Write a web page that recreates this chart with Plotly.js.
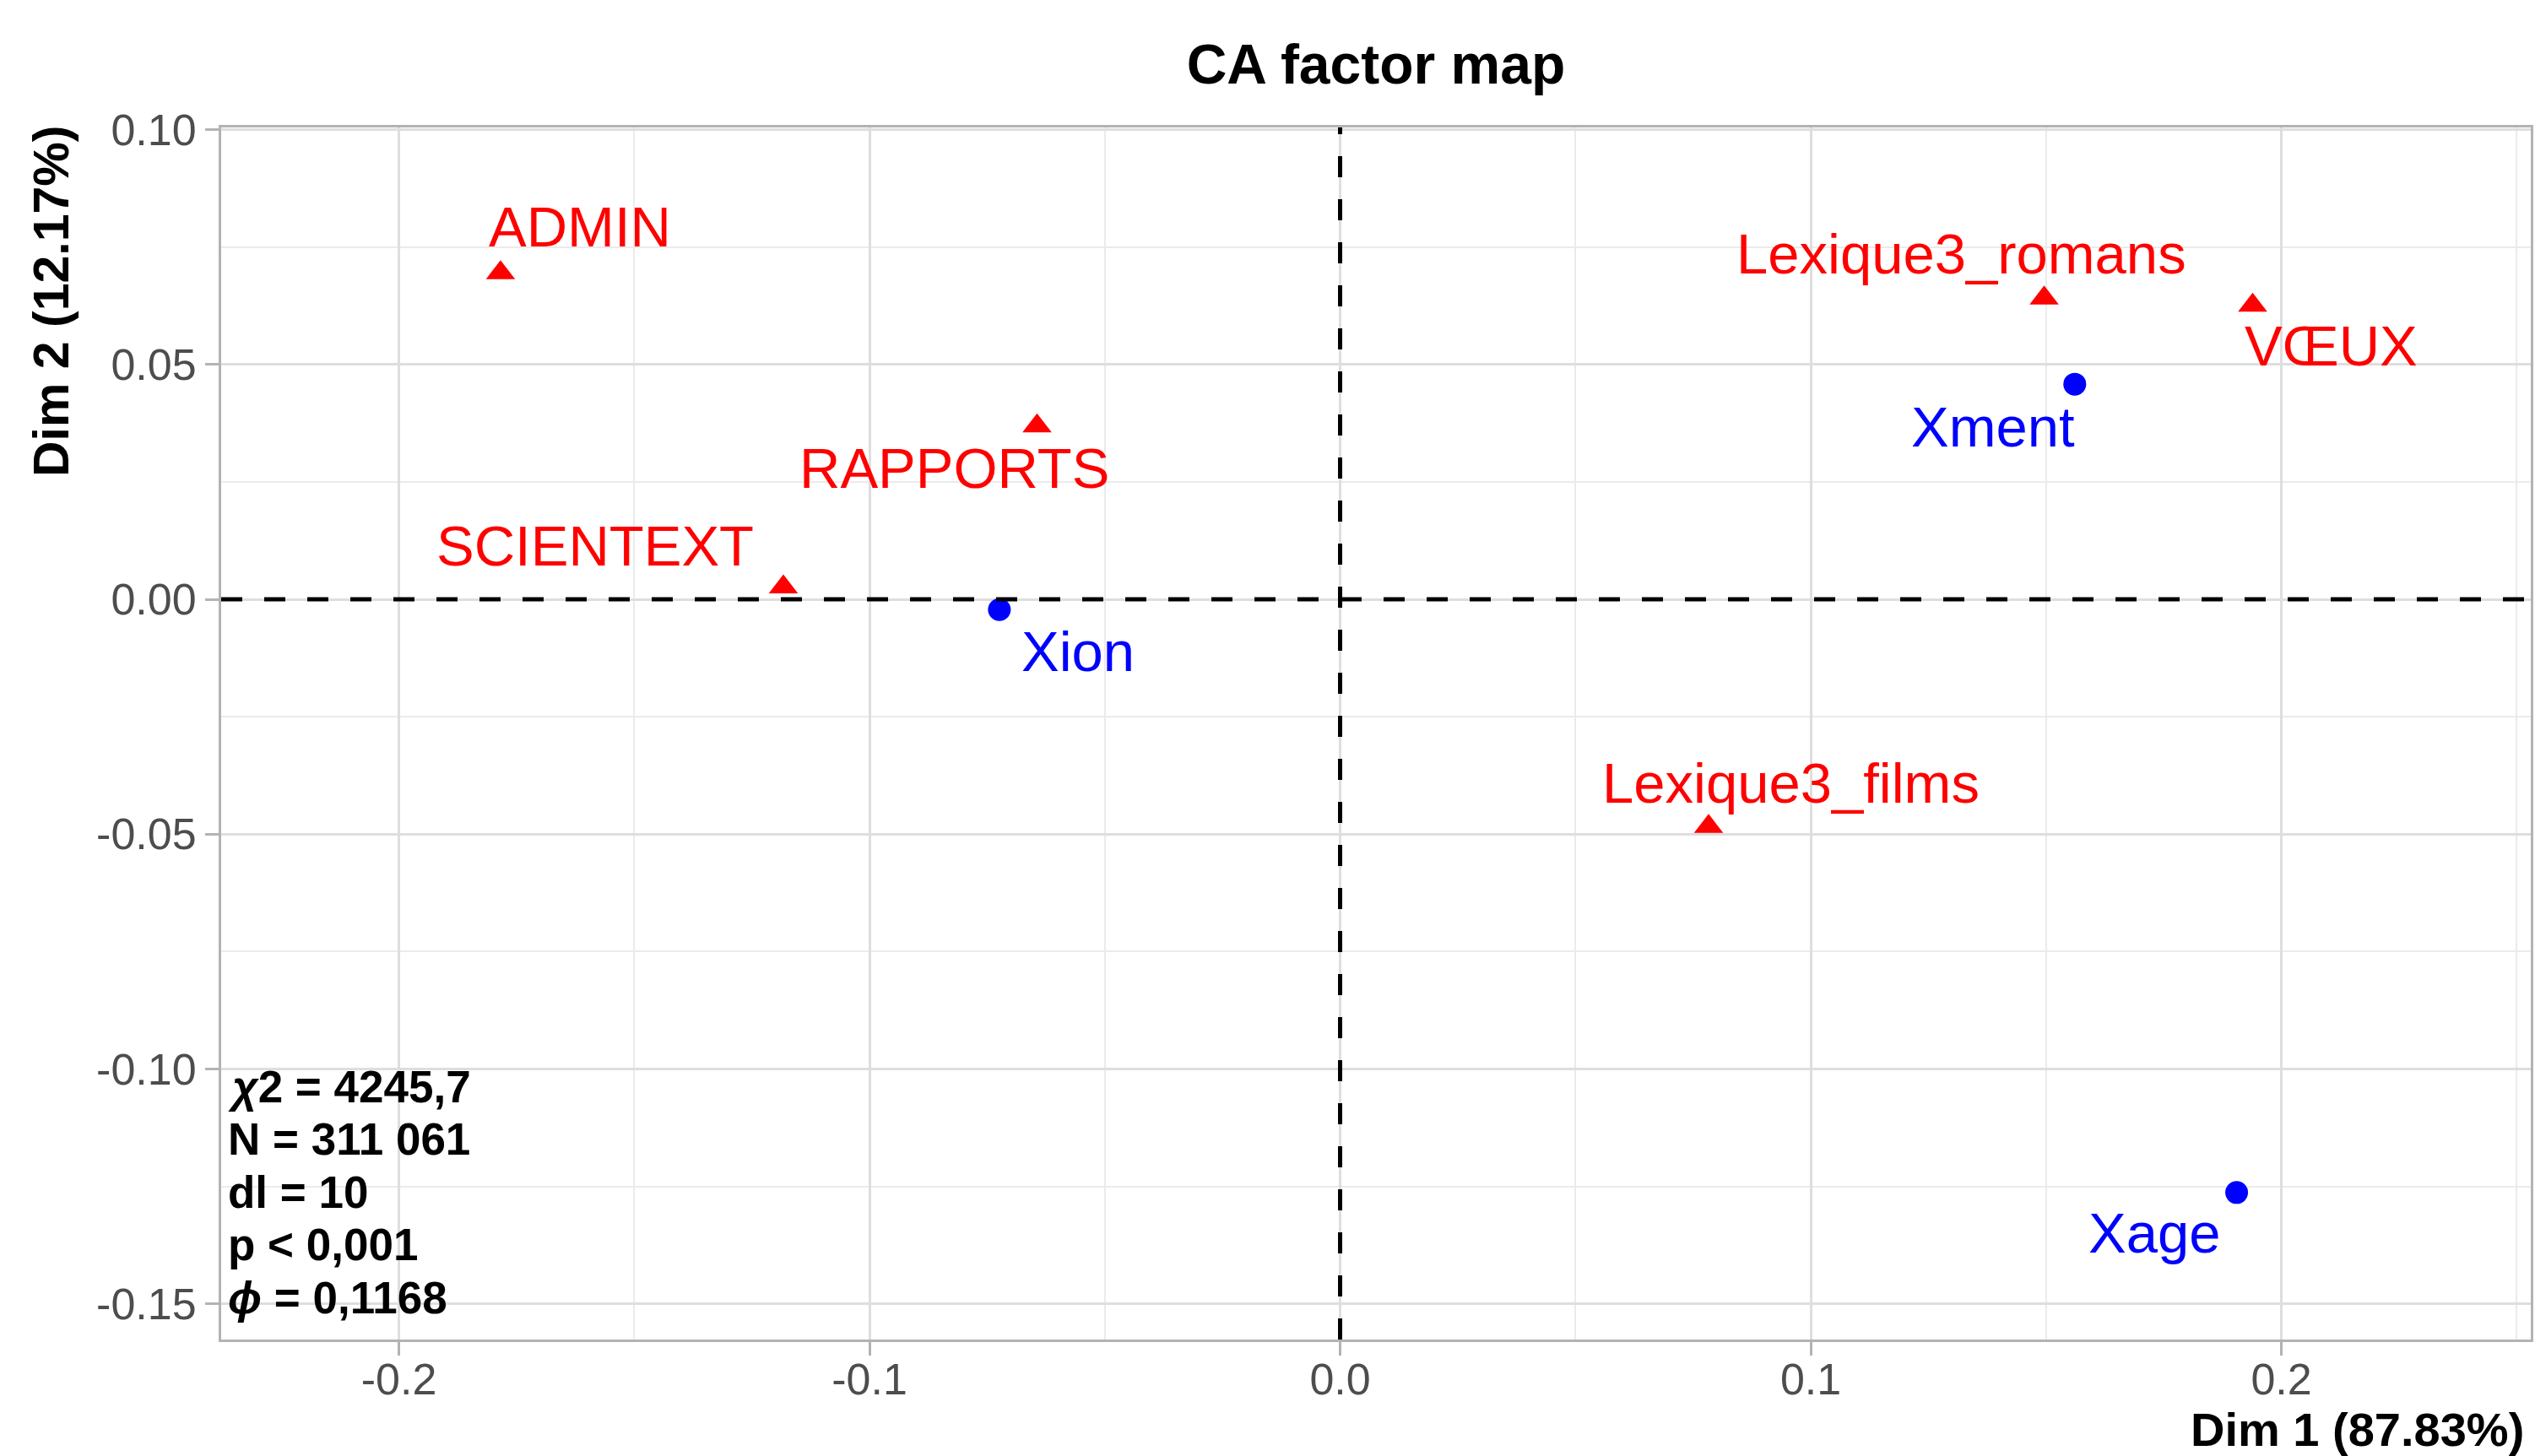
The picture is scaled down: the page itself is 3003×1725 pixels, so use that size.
<!DOCTYPE html>
<html>
<head>
<meta charset="utf-8">
<script src="https://cdn.plot.ly/plotly-3.0.1.min.js"></script>
<style>html,body{margin:0;padding:0;background:#fff;}#chart{width:3003px;height:1725px;}</style>
</head>
<body>
<div id="chart"></div>
<script>
// ---- data ----
var rowLabels = ['ADMIN', 'RAPPORTS', 'SCIENTEXT', 'Lexique3_films', 'Lexique3_romans', 'VŒUX'];
var rowDim1 = [-0.1784, -0.0644, -0.1183, 0.0783, 0.1496, 0.1939];
var rowDim2 = [0.0695, 0.0369, 0.0026, -0.0484, 0.0641, 0.0626];

var colLabels = ['Xion', 'Xment', 'Xage'];
var colDim1 = [-0.0724, 0.1561, 0.1905];
var colDim2 = [-0.0022, 0.0458, -0.1263];

var xTickVals = [-0.2, -0.1, 0.0, 0.1, 0.2];
var xTickText = ['-0.2', '-0.1', '0.0', '0.1', '0.2'];
var xMinorVals = [-0.15, -0.05, 0.05, 0.15, 0.25];
var yTickVals = [0.10, 0.05, 0.00, -0.05, -0.10, -0.15];
var yTickText = ['0.10', '0.05', '0.00', '-0.05', '-0.10', '-0.15'];
var yMinorVals = [0.075, 0.025, -0.025, -0.075, -0.125];

var statsLines = ['<i>χ</i>2 = 4245,7', 'N = 311 061', 'dl = 10', 'p < 0,001', '<i>ϕ</i> = 0,1168'];

// ---- label placement (pixel offsets, style only) ----
var rowLabelShift = [[94, -55], [-98, 50], [-223, -49], [97, -52], [-98, -53], [93, 48]];
var colLabelShift = [[93, 49], [-97, 50], [-98, 48]];

var FONT = 'Liberation Sans, Arial, Helvetica, sans-serif';
var RED = '#FF0000', BLUE = '#0000FF';

var traces = [
  {
    type: 'scatter', mode: 'markers', x: rowDim1, y: rowDim2, text: rowLabels,
    marker: {symbol: 'triangle-up', size: 30, color: RED, line: {width: 0}},
    showlegend: false, hoverinfo: 'text'
  },
  {
    type: 'scatter', mode: 'markers', x: colDim1, y: colDim2, text: colLabels,
    marker: {symbol: 'circle', size: 27, color: BLUE, line: {width: 0}},
    showlegend: false, hoverinfo: 'text'
  }
];

var annotations = [];
rowLabels.forEach(function (lab, i) {
  annotations.push({
    xref: 'x', yref: 'y', x: rowDim1[i], y: rowDim2[i], text: lab, showarrow: false,
    xanchor: 'center', yanchor: 'middle',
    xshift: rowLabelShift[i][0], yshift: -rowLabelShift[i][1],
    font: {family: FONT, size: 67, color: RED}
  });
});
colLabels.forEach(function (lab, i) {
  annotations.push({
    xref: 'x', yref: 'y', x: colDim1[i], y: colDim2[i], text: lab, showarrow: false,
    xanchor: 'center', yanchor: 'middle',
    xshift: colLabelShift[i][0], yshift: -colLabelShift[i][1],
    font: {family: FONT, size: 67, color: BLUE}
  });
});
statsLines.forEach(function (line, i) {
  annotations.push({
    xref: 'paper', yref: 'paper', x: 0, y: 0, text: '<b>' + line + '</b>', showarrow: false,
    xanchor: 'left', yanchor: 'middle',
    xshift: 6, yshift: 50 + (statsLines.length - 1 - i) * 62.5,
    font: {family: FONT, size: 53, color: '#000000'}
  });
});
// axis titles (ggplot-style, aligned to ends)
annotations.push({
  xref: 'paper', yref: 'paper', x: 1, y: 0, text: '<b>Dim 1 (87.83%)</b>', showarrow: false,
  xanchor: 'right', yanchor: 'middle', xshift: -6, yshift: -106,
  font: {family: FONT, size: 56, color: '#000000'}
});
annotations.push({
  xref: 'paper', yref: 'paper', x: 0, y: 1, text: '<b>Dim 2 (12.17%)</b>', showarrow: false,
  textangle: -90, xanchor: 'center', yanchor: 'top', xshift: -201, yshift: 4,
  font: {family: FONT, size: 59, color: '#000000'}
});

var layout = {
  width: 3003, height: 1725,
  margin: {l: 262, r: 5, t: 151, b: 138, pad: 0},
  paper_bgcolor: '#FFFFFF', plot_bgcolor: '#FFFFFF',
  font: {family: FONT},
  title: {
    text: '<b>CA factor map</b>', font: {family: FONT, size: 66, color: '#000000'},
    xref: 'paper', x: 0.5, xanchor: 'center', yref: 'container', y: 1 - 76 / 1725, yanchor: 'middle'
  },
  xaxis: {
    range: [-0.23776, 0.25300], tickmode: 'array', tickvals: xTickVals, ticktext: xTickText,
    showgrid: true, gridcolor: '#DEDEDE', gridwidth: 3, zeroline: false,
    showline: true, linecolor: '#B3B3B3', linewidth: 3, mirror: true,
    ticks: 'outside', ticklen: 16, tickwidth: 3, tickcolor: '#B3B3B3',
    ticklabelstandoff: -16,
    tickfont: {family: FONT, size: 52, color: '#4D4D4D'},
    minor: {tickmode: 'array', tickvals: xMinorVals, showgrid: true, gridcolor: '#EBEBEB', gridwidth: 2, ticks: ''},
    fixedrange: true
  },
  yaxis: {
    range: [-0.15759, 0.10045], tickmode: 'array', tickvals: yTickVals, ticktext: yTickText,
    showgrid: true, gridcolor: '#DEDEDE', gridwidth: 3, zeroline: false,
    showline: true, linecolor: '#B3B3B3', linewidth: 3, mirror: true,
    ticks: 'outside', ticklen: 16, tickwidth: 3, tickcolor: '#B3B3B3',
    tickfont: {family: FONT, size: 52, color: '#4D4D4D'},
    minor: {tickmode: 'array', tickvals: yMinorVals, showgrid: true, gridcolor: '#EBEBEB', gridwidth: 2, ticks: ''},
    fixedrange: true
  },
  shapes: [
    {type: 'line', xref: 'paper', yref: 'y', x0: 0, x1: 1, y0: 0, y1: 0,
     line: {color: '#000000', width: 5, dash: '25px,26px'}},
    {type: 'line', xref: 'x', yref: 'paper', x0: 0, x1: 0, y0: 0, y1: 1,
     line: {color: '#000000', width: 5, dash: '25px,26px'}}
  ],
  annotations: annotations
};

Plotly.newPlot('chart', traces, layout, {displayModeBar: false, responsive: false});
</script>
</body>
</html>
